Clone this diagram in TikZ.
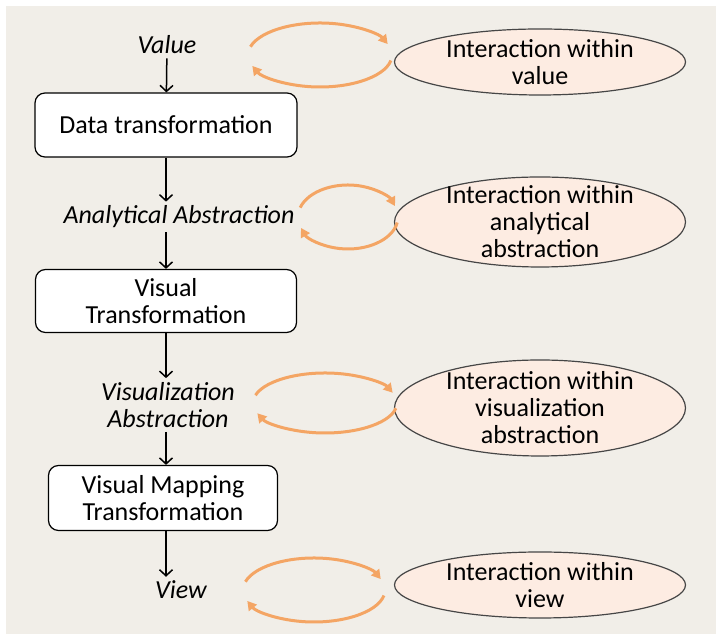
\documentclass[tikz,border=0pt]{standalone}
\usepackage{fontspec}
\setmainfont{Carlito}
\usetikzlibrary{arrows.meta,shapes.geometric,calc}
\definecolor{paper}{RGB}{241,238,232}
\definecolor{peach}{RGB}{253,236,226}
\definecolor{looporange}{RGB}{244,165,100}
\definecolor{rimgray}{RGB}{70,70,70}

\begin{document}
\begin{tikzpicture}[x=1pt,y=1pt,
    stagebox/.style={draw=black,fill=white,rounded corners=10pt,line width=1.2pt,align=center,inner sep=2pt},
    stagelabel/.style={font=\itshape,align=center,inner sep=4pt},
    flow/.style={-{Straight Barb[length=6pt,width=13pt]},line width=1.5pt},
    interbox/.style={ellipse,draw=rimgray,fill=peach,line width=1.2pt,inner sep=0pt,minimum width=291pt},
    intertext/.style={align=center,inner sep=0pt},
    cyclearc/.style={draw=looporange,line width=3pt,-{Triangle[length=9pt,width=10pt]}}]
        \fontsize{26}{27}\selectfont
        \useasboundingbox (0,0) rectangle (716,634);
        \fill[paper] (6,0) rectangle (716,628);
        % Pipeline stages
        \draw (167,589) node[stagelabel] (val){Value};
        \draw (166,509) node[stagebox,minimum width=262pt,minimum height=64pt] (dt){Data transformation};
        \draw (179,417) node[stagelabel] (aa){Analytical Abstraction};
        \draw (166,333) node[stagebox,minimum width=261pt,minimum height=63pt] (vt){Visual\\Transformation};
        \draw (168,229) node[stagelabel] (vza){Visualization\\Abstraction};
        \draw (163,136) node[stagebox,minimum width=229pt,minimum height=65pt] (vmt){Visual Mapping\\Transformation};
        \draw (181,44) node[stagelabel] (view){View};
        \draw[flow] (val) -- (dt);
        \draw[flow] (dt) -- (dt.south |- aa.north);
        \draw[flow] (dt.south |- aa.south) -- (vt);
        \draw[flow] (vt) -- (vt.south |- vza.north);
        \draw[flow] (vt.south |- vza.south) -- (vt.south |- vmt.north);
        \draw[flow] (vt.south |- vmt.south) -- (vt.south |- view.north);
        % Interactions
        \draw (540,572) node[interbox,minimum height=66pt] (e1){};
        \draw (540,412) node[interbox,minimum height=90pt] (e2){};
        \draw (540,226) node[interbox,minimum height=96pt] (e3){};
        \draw (540,49) node[interbox,minimum height=66pt] (e4){};
        \draw (e1) node[intertext] (e1t){Interaction within\\value};
        \draw (e2) node[intertext] (e2t){Interaction within\\analytical\\abstraction};
        \draw (e3) node[intertext] (e3t){Interaction within\\visualization\\abstraction};
        \draw (e4) node[intertext] (e4t){Interaction within\\view};
        % Cycle arrows
        \coordinate (c1) at (320,579);
        \coordinate (c2) at (348,417);
        \coordinate (c3) at (325,231);
        \coordinate (c4) at (314,44);
        \draw[cyclearc] (c1) ++(165:72 and 32) arc[start angle=165,end angle=20,x radius=72,y radius=32];
        \draw[cyclearc] (c1) ++(-10:72 and 32) arc[start angle=-10,end angle=-160,x radius=72,y radius=32];
        \draw[cyclearc] (c2) ++(163:50 and 32) arc[start angle=163,end angle=20,x radius=50,y radius=32];
        \draw[cyclearc] (c2) ++(-10:50 and 32) arc[start angle=-10,end angle=-160,x radius=50,y radius=32];
        \draw[cyclearc] (c3) ++(165:72 and 30) arc[start angle=165,end angle=20,x radius=72,y radius=30];
        \draw[cyclearc] (c3) ++(-10:72 and 30) arc[start angle=-10,end angle=-160,x radius=72,y radius=30];
        \draw[cyclearc] (c4) ++(165:71 and 32) arc[start angle=165,end angle=20,x radius=71,y radius=32];
        \draw[cyclearc] (c4) ++(-10:71 and 32) arc[start angle=-10,end angle=-160,x radius=71,y radius=32];
\end{tikzpicture}
\end{document}
